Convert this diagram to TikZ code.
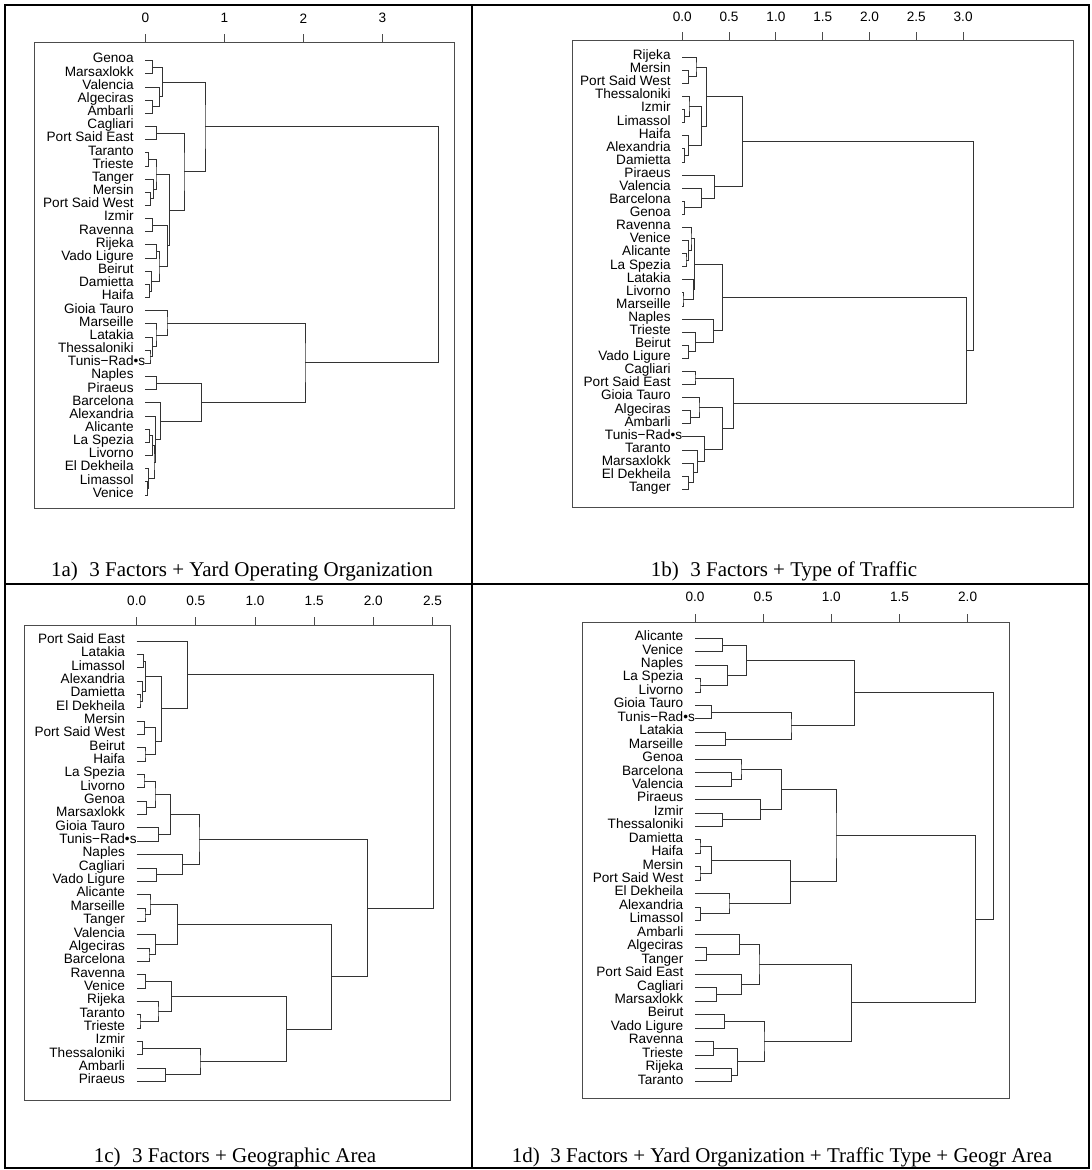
\documentclass[tikz,border=0pt]{standalone}
\usepackage{fontspec}
\setmainfont{Liberation Serif}
\newfontfamily\arialfont{Liberation Sans}
\usepackage{tikz}
\usetikzlibrary{calc}

\tikzset{
  port/.style={anchor=mid east, inner sep=0pt, font=\arialfont\fontsize{13.6}{15}\selectfont},
  ticklab/.style={inner sep=0pt, font=\arialfont\fontsize{13.6}{15}\selectfont},
  dend/.style={draw=black!80, line width=0.9pt},
  plotbox/.style={draw=black!70, line width=1pt},
  cellline/.style={draw=black, line width=2pt},
  caption/.style={inner sep=0pt, font=\fontsize{21}{24}\selectfont}
}

\newcommand{\tunis}{Tunis−Rad\rlap{•s}}
% leaves: prefix, x of height 0, y of first leaf, spacing, names
\newcommand{\portleaves}[5]{%
  \foreach \port [count=\i] in {#5} {
    \coordinate (#1\i) at (#2, {#3+#4*(\i-1)});
    \node [port] (#1l\i) at (#2-11.5, {#3+#4*(\i-1)}) {\port};
  }
}
% links: new name / child / child / x of the join
\newcommand{\portlinks}[1]{%
  \foreach \nm/\ca/\cb/\hh in {#1} {
    \path let \p1=(\ca), \p2=(\cb) in coordinate (\nm) at (\hh pt, {0.5*(\y1+\y2)});
    \draw [dend] (\ca) -| (\nm) |- (\cb);
  }
}

\begin{document}
\begin{tikzpicture}[x=1pt, y=-1pt]
  \useasboundingbox (0,0) rectangle (1092,1170);

  % Table lines
  \draw [cellline] (5,5) rectangle (1089,1168);
  \draw [cellline] (472,5) -- (472,1168);
  \draw [cellline] (5,584) -- (1089,584);

  % Panel 1a
  \draw [plotbox] (34.7,42.7) rectangle (454.7,508.3);
  \foreach \v [count=\k] in {0,1,2,3} {
    \draw [plotbox] ({145.3+79*\v},42.7) -- ({145.3+79*\v},34.3);
    \node [ticklab] (ta\k) at ({145.3+79*\v},18.3) {\v};
  }
  \portleaves{a}{145.3}{60.7}{13.16}{Genoa, Marsaxlokk, Valencia, Algeciras, Ambarli, Cagliari,
    Port Said East, Taranto, Trieste, Tanger, Mersin, Port Said West, Izmir, Ravenna, Rijeka,
    Vado Ligure, Beirut, Damietta, Haifa, Gioia Tauro, Marseille, Latakia, Thessaloniki, \tunis,
    Naples, Piraeus, Barcelona, Alexandria, Alicante, La Spezia, Livorno, El Dekheila, Limassol, Venice}
  \portlinks{a1-2/a1/a2/152.7, a4-5/a4/a5/152.7, a3-5/a3/a4-5/159.3, a1-5/a1-2/a3-5/162.7,
    a6-7/a6/a7/156.7, a8-9/a8/a9/148.3, a11-12/a11/a12/150.7, a10-12/a10/a11-12/153.3,
    a8-12/a8-9/a10-12/156, a13-14/a13/a14/152.7, a15-16/a15/a16/156.7, a18-19/a18/a19/149.3,
    a17-19/a17/a18-19/151.7, a15-19/a15-16/a17-19/159, a13-19/a13-14/a15-19/167.7,
    a8-19/a8-12/a13-19/169.3, a6-19/a6-7/a8-19/184, a1-19/a1-5/a6-19/205,
    a23-24/a23/a24/150, a22-24/a22/a23-24/152.3, a21-24/a21/a22-24/156, a20-24/a20/a21-24/167,
    a25-26/a25/a26/156.7, a33-34/a33/a34/147.3, a32-34/a32/a33-34/148.7, a29-30/a29/a30/149.3,
    a29-31/a29-30/a31/152.7, a29-34/a29-31/a32-34/154, a28-34/a28/a29-34/155.3,
    a27-34/a27/a28-34/160.3, a25-34/a25-26/a27-34/201.3, a20-34/a20-24/a25-34/305,
    a1-34/a1-19/a20-34/438.3}
  \node [caption] (capa) at (242,571) {1a)\hspace{0.55em}3 Factors + Yard Operating Organization};

  % Panel 1b
  \draw [plotbox] (572.3,40) rectangle (1073,507.3);
  \foreach \v [count=\k] in {0.0,0.5,1.0,1.5,2.0,2.5,3.0} {
    \draw [plotbox] ({682.3+93.6*\v},40) -- ({682.3+93.6*\v},32.3);
    \node [ticklab] (tb\k) at ({682.3+93.6*\v},16.7) {\v};
  }
  \portleaves{b}{682.3}{57.3}{13.09}{Rijeka, Mersin, Port Said West, Thessaloniki, Izmir, Limassol,
    Haifa, Alexandria, Damietta, Piraeus, Valencia, Barcelona, Genoa, Ravenna, Venice, Alicante,
    La Spezia, Latakia, Livorno, Marseille, Naples, Trieste, Beirut, Vado Ligure, Cagliari,
    Port Said East, Gioia Tauro, Algeciras, Ambarli, \tunis, Taranto, Marsaxlokk, El Dekheila, Tanger}
  \portlinks{b2-3/b2/b3/688.3, b1-3/b1/b2-3/696, b5-6/b5/b6/684.3, b4-6/b4/b5-6/689,
    b8-9/b8/b9/684.3, b7-9/b7/b8-9/688.3, b4-9/b4-6/b7-9/701.7, b1-9/b1-3/b4-9/706.7,
    b12-13/b12/b13/684.3, b11-13/b11/b12-13/701.7, b10-13/b10/b11-13/714.3,
    b1-13/b1-9/b10-13/742.3, b16-17/b16/b17/686, b15-17/b15/b16-17/688.3,
    b14-17/b14/b15-17/691, b19-20/b19/b20/683, b18-20/b18/b19-20/693.3,
    b14-20/b14-17/b18-20/694.3, b23-24/b23/b24/688.3, b22-24/b22/b23-24/695.7,
    b21-24/b21/b22-24/713.3, b14-24/b14-20/b21-24/722.7, b25-26/b25/b26/695,
    b28-29/b28/b29/690.3, b27-29/b27/b28-29/699, b33-34/b33/b34/688.3,
    b32-34/b32/b33-34/693.3, b31-34/b31/b32-34/697.7, b30-34/b30/b31-34/704.3,
    b27-34/b27-29/b30-34/722.3, b25-34/b25-26/b27-34/733.3, b14-34/b14-24/b25-34/966,
    b1-34/b1-13/b14-34/973.3}
  \node [caption] (capb) at (784,571) {1b)\hspace{0.55em}3 Factors + Type of Traffic};

  % Panel 1c
  \draw [plotbox] (24.7,625.7) rectangle (450,1100);
  \foreach \v [count=\k] in {0.0,0.5,1.0,1.5,2.0,2.5} {
    \draw [plotbox] ({136.7+118.3*\v},625.7) -- ({136.7+118.3*\v},617.3);
    \node [ticklab] (tc\k) at ({136.7+118.3*\v},601) {\v};
  }
  \portleaves{c}{136.7}{641}{13.35}{Port Said East, Latakia, Limassol, Alexandria, Damietta,
    El Dekheila, Mersin, Port Said West, Beirut, Haifa, La Spezia, Livorno, Genoa, Marsaxlokk,
    Gioia Tauro, \tunis, Naples, Cagliari, Vado Ligure, Alicante, Marseille, Tanger, Valencia,
    Algeciras, Barcelona, Ravenna, Venice, Rijeka, Taranto, Trieste, Izmir, Thessaloniki, Ambarli, Piraeus}
  \portlinks{c2-3/c2/c3/143.3, c5-6/c5/c6/140, c4-6/c4/c5-6/142.7, c2-6/c2-3/c4-6/145.7,
    c7-8/c7/c8/144.3, c9-10/c9/c10/145, c7-10/c7-8/c9-10/155.3, c2-10/c2-6/c7-10/161.3,
    c1-10/c1/c2-10/187.3, c11-12/c11/c12/144, c13-14/c13/c14/146.7, c11-14/c11-12/c13-14/155,
    c15-16/c15/c16/158.3, c11-16/c11-14/c15-16/170.7, c18-19/c18/c19/156.7,
    c17-19/c17/c18-19/182.7, c11-19/c11-16/c17-19/199, c21-22/c21/c22/145,
    c20-22/c20/c21-22/150, c24-25/c24/c25/149, c23-25/c23/c24-25/155.7,
    c20-25/c20-22/c23-25/177.3, c26-27/c26/c27/145.7, c29-30/c29/c30/140,
    c28-30/c28/c29-30/158, c26-30/c26-27/c28-30/171.7, c31-32/c31/c32/142.7,
    c33-34/c33/c34/165.7, c31-34/c31-32/c33-34/200, c26-34/c26-30/c31-34/286.7,
    c20-34/c20-25/c26-34/331.7, c11-34/c11-19/c20-34/367.7, c1-34/c1-10/c11-34/433.3}
  \node [caption] (capc) at (235,1157) {1c)\hspace{0.55em}3 Factors + Geographic Area};

  % Panel 1d
  \draw [plotbox] (582.7,622.7) rectangle (1009.3,1098.3);
  \foreach \v [count=\k] in {0.0,0.5,1.0,1.5,2.0} {
    \draw [plotbox] ({695+136.3*\v},622.7) -- ({695+136.3*\v},614.3);
    \node [ticklab] (td\k) at ({695+136.3*\v},596.7) {\v};
  }
  \portleaves{d}{695}{638.3}{13.44}{Alicante, Venice, Naples, La Spezia, Livorno, Gioia Tauro,
    \tunis, Latakia, Marseille, Genoa, Barcelona, Valencia, Piraeus, Izmir, Thessaloniki,
    Damietta, Haifa, Mersin, Port Said West, El Dekheila, Alexandria, Limassol, Ambarli,
    Algeciras, Tanger, Port Said East, Cagliari, Marsaxlokk, Beirut, Vado Ligure, Ravenna,
    Trieste, Rijeka, Taranto}
  \portlinks{d1-2/d1/d2/722.7, d4-5/d4/d5/700, d3-5/d3/d4-5/727.3, d1-5/d1-2/d3-5/746.7,
    d6-7/d6/d7/711.7, d8-9/d8/d9/725.7, d6-9/d6-7/d8-9/791, d1-9/d1-5/d6-9/854.3,
    d11-12/d11/d12/731.7, d10-12/d10/d11-12/741, d14-15/d14/d15/722.7,
    d13-15/d13/d14-15/760.3, d10-15/d10-12/d13-15/781.7, d16-17/d16/d17/700,
    d18-19/d18/d19/700, d16-19/d16-17/d18-19/711.7, d21-22/d21/d22/700.7,
    d20-22/d20/d21-22/729, d16-22/d16-19/d20-22/790.7, d10-22/d10-15/d16-22/836,
    d24-25/d24/d25/706.7, d23-25/d23/d24-25/739.3, d27-28/d27/d28/716.7,
    d26-28/d26/d27-28/741.7, d23-28/d23-25/d26-28/759, d29-30/d29/d30/724.3,
    d31-32/d31/d32/713.3, d33-34/d33/d34/731.7, d31-34/d31-32/d33-34/737.3,
    d29-34/d29-30/d31-34/764, d23-34/d23-28/d29-34/851.7, d10-34/d10-22/d23-34/975.7,
    d1-34/d1-9/d10-34/993.3}
  \node [caption] (capd) at (782,1157) {1d)\hspace{0.5em}3 Factors + Yard Organization + Traffic Type + Geogr Area};
\end{tikzpicture}
\end{document}
